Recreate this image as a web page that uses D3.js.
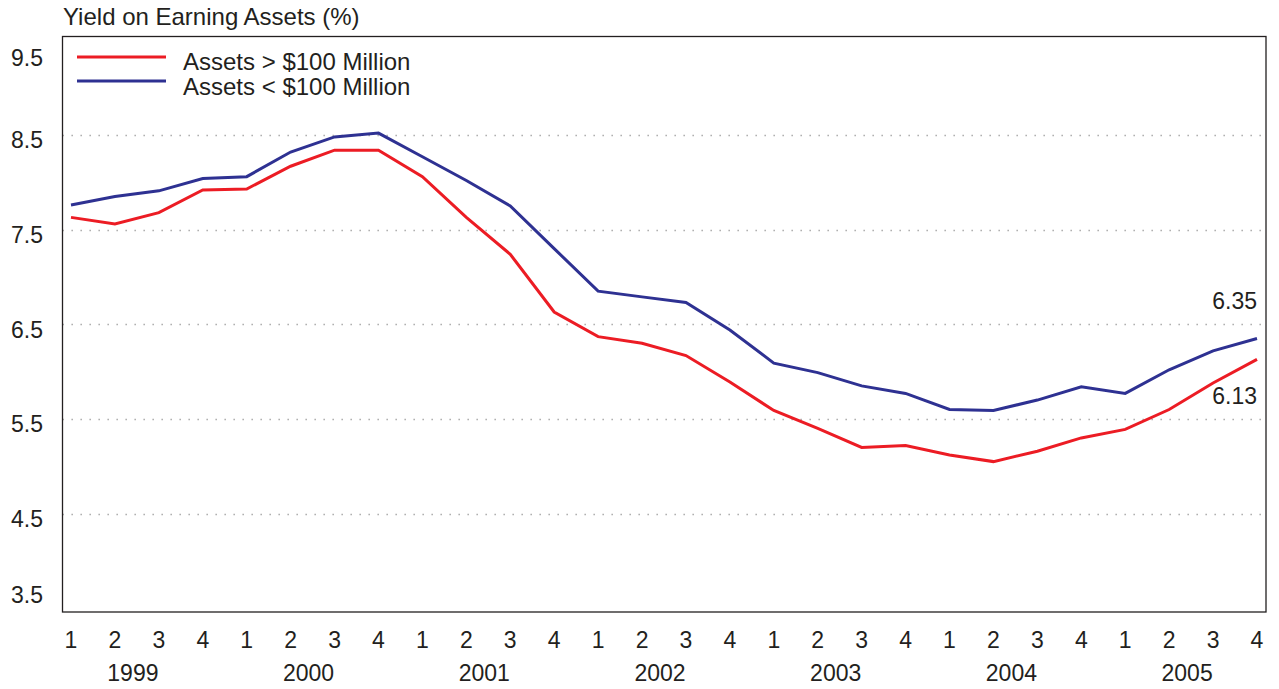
<!DOCTYPE html>
<html>
<head>
<meta charset="utf-8">
<script src="https://cdn.jsdelivr.net/npm/d3@7"></script>
<style>
  body { margin: 0; background: #fff; }
  svg text { font-family: "Liberation Sans", Arial, sans-serif; fill: #231f20; }
</style>
</head>
<body>
<div id="chart"></div>
<script>
// quarters 1999Q1 .. 2005Q4
const years = ["1999", "2000", "2001", "2002", "2003", "2004", "2005"];
const quarters = ["1", "2", "3", "4"];
const largeBanks = [7.63, 7.56, 7.68, 7.92, 7.93, 8.17, 8.34, 8.34,
                    8.06, 7.63, 7.24, 6.63, 6.37, 6.30, 6.17, 5.89,
                    5.59, 5.40, 5.20, 5.22, 5.12, 5.05, 5.16, 5.30,
                    5.39, 5.60, 5.88, 6.13];
const smallBanks = [7.76, 7.85, 7.91, 8.04, 8.06, 8.32, 8.48, 8.52,
                    8.27, 8.02, 7.75, 7.30, 6.85, 6.79, 6.73, 6.44,
                    6.09, 5.99, 5.85, 5.77, 5.60, 5.59, 5.70, 5.84,
                    5.77, 6.02, 6.22, 6.35];
const yTicks = [3.5, 4.5, 5.5, 6.5, 7.5, 8.5, 9.5];
const gridTicks = [4.5, 5.5, 6.5, 7.5, 8.5];
const seriesNames = ["Assets > $100 Million", "Assets < $100 Million"];

const w = 1279, h = 689;
const red = "#ec1c24", blue = "#2e3192";

const keys = [];
years.forEach(y => quarters.forEach(q => keys.push(y + "Q" + q)));

const svg = d3.select("#chart").append("svg")
  .attr("width", w).attr("height", h);

const box = { left: 62.5, right: 1266, top: 36.5, bottom: 612 };

const x = d3.scalePoint().domain(keys).range([71, 1257]);
const y = d3.scaleLinear().domain([5.5, 8.5]).range([419, 135]);
// labels sit a little below their gridlines, end ones pushed inside the frame
const labelY = v => Math.max(58, Math.min(595, y(v) + 5));

// grid
svg.selectAll(".grid").data(gridTicks).enter().append("line")
  .attr("x1", box.left).attr("x2", box.right)
  .attr("y1", d => Math.round(y(d)) + 0.5).attr("y2", d => Math.round(y(d)) + 0.5)
  .attr("stroke", "#9d9d9d").attr("stroke-width", 1.3)
  .attr("stroke-dasharray", "1.3,7.7");

// frame
svg.append("rect")
  .attr("x", box.left).attr("y", box.top)
  .attr("width", box.right - box.left).attr("height", box.bottom - box.top)
  .attr("fill", "none").attr("stroke", "#231f20").attr("stroke-width", 1.3);

// y labels
svg.selectAll(".ylab").data(yTicks).enter().append("text")
  .attr("x", 43).attr("y", d => labelY(d)).attr("dy", "0.36em")
  .attr("text-anchor", "end").attr("font-size", 23)
  .text(d => d.toFixed(1));

// x labels
svg.selectAll(".qlab").data(keys).enter().append("text")
  .attr("x", d => x(d)).attr("y", 648)
  .attr("text-anchor", "middle").attr("font-size", 23)
  .text(d => d.slice(-1));
svg.selectAll(".yrlab").data(years).enter().append("text")
  .attr("x", d => (x(d + "Q2") + x(d + "Q3")) / 2 - 4).attr("y", 681)
  .attr("text-anchor", "middle").attr("font-size", 23)
  .text(d => d);

// title
svg.append("text").attr("x", 63).attr("y", 25).attr("font-size", 24)
  .text("Yield on Earning Assets (%)");

// lines
const line = d3.line().x((d, i) => x(keys[i])).y(d => y(d));
[[largeBanks, red], [smallBanks, blue]].forEach(([s, c]) => {
  svg.append("path").datum(s).attr("d", line)
    .attr("fill", "none").attr("stroke", c).attr("stroke-width", 3)
    .attr("stroke-linejoin", "miter");
});

// end labels
const last = keys.length - 1;
svg.append("text").attr("x", 1257).attr("y", y(smallBanks[last]) - 38).attr("dy", "0.36em")
  .attr("text-anchor", "end").attr("font-size", 23).text(smallBanks[last].toFixed(2));
svg.append("text").attr("x", 1257).attr("y", y(largeBanks[last]) + 36).attr("dy", "0.36em")
  .attr("text-anchor", "end").attr("font-size", 23).text(largeBanks[last].toFixed(2));

// legend
const legend = svg.append("g");
[red, blue].forEach((c, i) => {
  legend.append("line").attr("x1", 77).attr("x2", 166)
    .attr("y1", 57 + i * 24).attr("y2", 57 + i * 24)
    .attr("stroke", c).attr("stroke-width", 3);
  legend.append("text").attr("x", 183).attr("y", 61 + i * 25).attr("dy", "0.36em")
    .attr("font-size", 24).text(seriesNames[i]);
});
</script>
</body>
</html>
